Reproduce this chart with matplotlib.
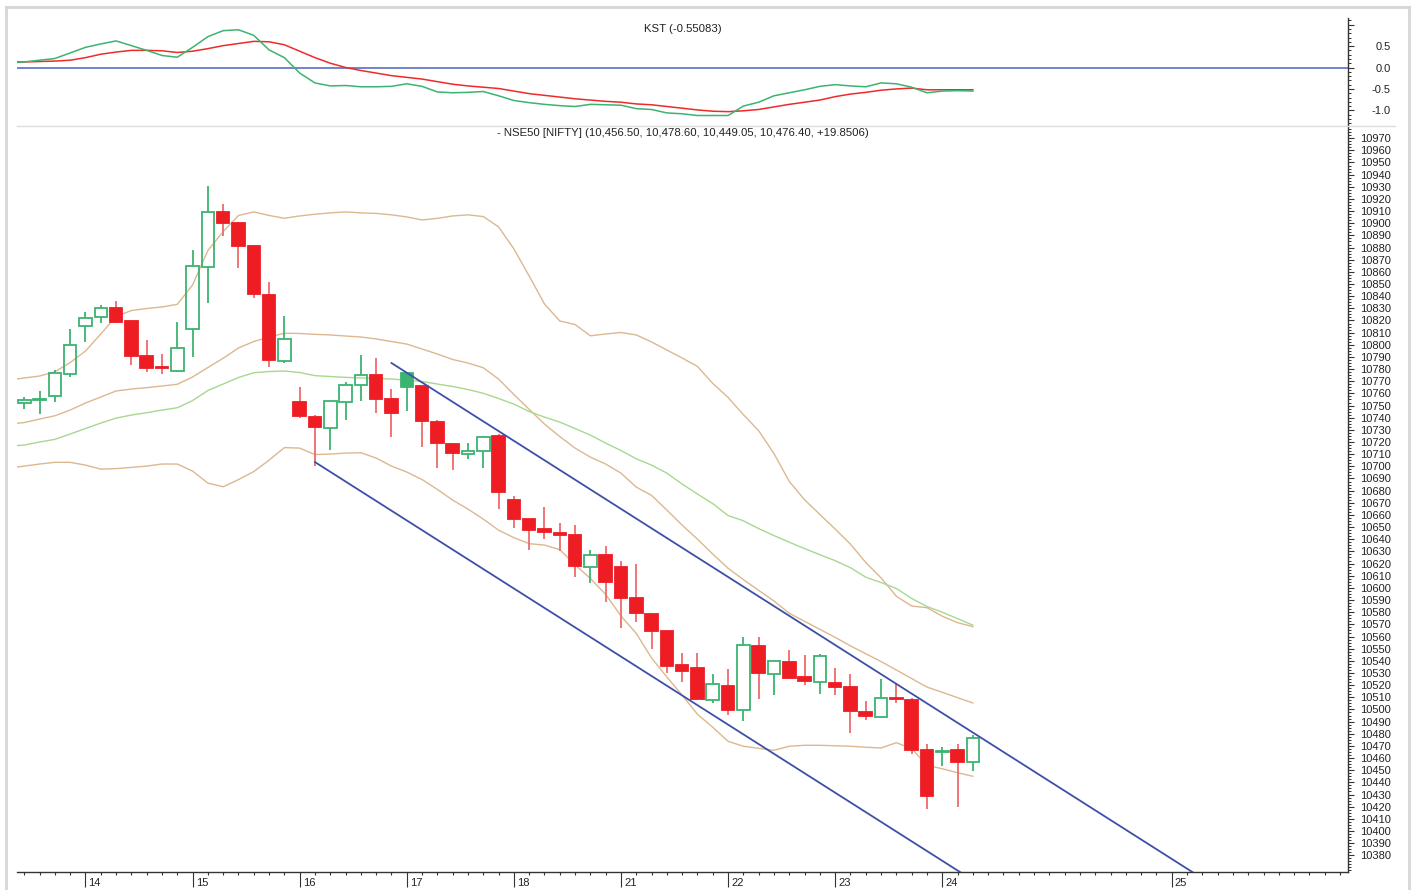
import numpy as np
import matplotlib
matplotlib.use("Agg")
import matplotlib.pyplot as plt
import matplotlib.transforms as mtransforms
from matplotlib.lines import Line2D
from matplotlib.ticker import MultipleLocator, FixedLocator, FixedFormatter

plt.rcParams['font.family'] = ['Liberation Sans', 'DejaVu Sans']

# hourly NIFTY bars, bar 0 = 11th 12:15
opens = [10752.4, 10754.6, 10757.9, 10776.0, 10815.8, 10822.7, 10830.6, 10819.6, 10791.1, 10781.2,
         10778.7, 10813.0, 10863.8, 10909.1, 10900.0, 10881.6, 10841.0, 10786.9, 10753.0, 10740.4,
         10731.8, 10752.7, 10766.7, 10775.0, 10755.4, 10776.6, 10766.3, 10736.8, 10718.4, 10710.2,
         10712.9, 10725.0, 10672.3, 10656.7, 10648.4, 10644.9, 10643.3, 10617.4, 10626.8, 10617.3,
         10591.3, 10578.4, 10564.4, 10536.3, 10534.3, 10507.5, 10519.0, 10499.9, 10552.4, 10529.0,
         10539.2, 10526.4, 10522.7, 10521.4, 10518.1, 10497.5, 10493.9, 10509.8, 10507.7, 10466.6,
         10465.3, 10466.6, 10456.50]
highs = [10757.3, 10762.3, 10779.3, 10812.8, 10827.3, 10832.8, 10836.1, 10820.5, 10804.0, 10792.3,
         10819.1, 10878.0, 10930.7, 10915.9, 10901.4, 10882.2, 10852.0, 10823.8, 10765.6, 10742.0,
         10754.0, 10769.7, 10791.6, 10788.9, 10763.7, 10776.6, 10766.3, 10738.2, 10719.0, 10719.5,
         10723.9, 10726.4, 10675.6, 10656.7, 10666.3, 10653.2, 10651.8, 10631.1, 10634.8, 10622.5,
         10619.8, 10578.4, 10564.4, 10546.2, 10546.2, 10528.9, 10533.2, 10559.8, 10559.8, 10540.0,
         10548.8, 10544.7, 10545.6, 10534.3, 10528.9, 10506.7, 10524.7, 10521.4, 10509.0, 10471.5,
         10469.2, 10471.5, 10478.60]
lows = [10746.9, 10742.8, 10753.2, 10773.3, 10802.6, 10817.7, 10817.7, 10783.4, 10778.0, 10776.0,
        10778.0, 10789.8, 10834.2, 10889.8, 10863.0, 10838.3, 10782.0, 10785.3, 10739.5, 10700.3,
        10713.5, 10738.2, 10754.0, 10744.0, 10724.4, 10745.8, 10715.7, 10698.9, 10697.0, 10705.8,
        10698.4, 10664.7, 10649.0, 10631.1, 10640.5, 10630.4, 10609.3, 10603.8, 10588.7, 10567.2,
        10572.3, 10550.0, 10530.2, 10522.3, 10508.3, 10505.6, 10495.3, 10490.6, 10508.3, 10511.8,
        10524.8, 10520.0, 10512.7, 10511.8, 10480.6, 10491.1, 10493.4, 10505.0, 10463.2, 10418.0,
        10453.6, 10419.9, 10449.05]
closes = [10754.6, 10755.8, 10776.6, 10799.6, 10821.9, 10830.1, 10819.1, 10791.1, 10780.7, 10780.5,
          10797.7, 10864.9, 10909.1, 10900.0, 10881.6, 10841.6, 10787.5, 10804.8, 10741.4, 10732.1,
          10753.8, 10766.7, 10775.0, 10755.7, 10743.9, 10765.5, 10737.3, 10719.0, 10711.2, 10712.9,
          10723.9, 10678.6, 10656.7, 10647.6, 10646.0, 10643.8, 10618.3, 10627.4, 10604.9, 10591.3,
          10579.0, 10564.4, 10535.9, 10531.8, 10508.3, 10520.7, 10499.9, 10552.6, 10530.2, 10540.0,
          10526.1, 10523.6, 10544.1, 10518.6, 10498.8, 10494.5, 10509.8, 10508.5, 10466.6, 10428.9,
          10466.0, 10456.55, 10476.40]

day_labels = ['14', '15', '16', '17', '18', '21', '22', '23', '24', '25']
day_start = [4, 11, 18, 25, 32, 39, 46, 53, 60, 75]

# overlay lines, first value is the bar before bar 0
band_upper2 = [10771.0, 10772.7, 10774.3, 10777.8, 10785.4, 10794.9, 10808.9, 10823.3, 10828.2, 10829.9,
               10831.1, 10833.3, 10849.2, 10877.6, 10893.1, 10906.4, 10909.3, 10906.4, 10904.1, 10906.0,
               10907.4, 10908.5, 10909.3, 10908.5, 10908.1, 10906.9, 10905.2, 10902.7, 10904.0, 10906.0,
               10906.9, 10905.5, 10897.0, 10878.9, 10856.6, 10833.6, 10819.6, 10816.7, 10807.4, 10808.9,
               10810.1, 10808.1, 10802.3, 10795.7, 10789.1, 10782.2, 10768.2, 10756.7, 10742.5, 10729.3,
               10710.5, 10687.6, 10672.5, 10660.4, 10648.4, 10636.0, 10620.9, 10608.2, 10593.1, 10585.1,
               10583.7, 10576.7, 10571.4, 10568.1]
band_upper1 = [10734.8, 10736.0, 10738.9, 10741.6, 10746.3, 10752.1, 10757.0, 10762.0, 10763.6, 10764.7,
               10766.1, 10767.5, 10773.5, 10781.3, 10788.9, 10797.4, 10802.7, 10806.4, 10809.5, 10809.3,
               10808.6, 10808.1, 10807.2, 10806.4, 10804.8, 10802.7, 10800.6, 10796.5, 10792.4, 10787.9,
               10785.0, 10781.1, 10771.8, 10759.1, 10746.9, 10734.8, 10724.5, 10715.0, 10707.6, 10701.9,
               10694.4, 10682.9, 10676.1, 10664.0, 10651.6, 10640.1, 10627.8, 10616.2, 10606.8, 10598.0,
               10589.2, 10579.1, 10572.5, 10565.9, 10559.3, 10552.3, 10545.8, 10539.4, 10532.4, 10525.4,
               10518.4, 10514.1, 10509.7, 10505.3]
band_mid = [10716.7, 10717.5, 10720.0, 10722.2, 10726.6, 10731.1, 10735.6, 10739.7, 10742.2, 10744.1,
            10746.3, 10748.2, 10754.1, 10762.4, 10767.7, 10773.1, 10777.0, 10778.0, 10778.4, 10777.2,
            10774.6, 10773.9, 10773.2, 10772.7, 10772.4, 10771.8, 10771.0, 10769.8, 10767.7, 10765.7,
            10763.2, 10760.1, 10755.8, 10751.2, 10745.1, 10740.5, 10736.4, 10731.1, 10725.7, 10719.1,
            10713.0, 10706.2, 10701.0, 10694.4, 10685.4, 10677.2, 10669.3, 10659.5, 10655.2, 10648.8,
            10643.0, 10637.6, 10632.3, 10627.3, 10622.4, 10616.6, 10608.8, 10604.4, 10599.5, 10591.3,
            10584.7, 10580.0, 10574.7, 10569.3]
band_lower = [10698.6, 10700.2, 10701.9, 10703.3, 10703.3, 10701.0, 10697.7, 10698.1, 10699.1, 10700.2,
              10701.9, 10701.9, 10696.1, 10686.2, 10683.2, 10689.1, 10695.7, 10705.1, 10715.4, 10715.0,
              10709.7, 10710.1, 10710.9, 10711.2, 10706.8, 10700.2, 10695.3, 10689.1, 10681.0, 10672.2,
              10664.8, 10656.6, 10647.5, 10641.3, 10636.4, 10635.2, 10631.5, 10619.0, 10607.8, 10594.6,
              10576.9, 10562.5, 10542.3, 10526.7, 10511.7, 10496.0, 10485.3, 10473.8, 10469.7, 10468.0,
              10466.4, 10469.7, 10470.5, 10470.5, 10470.1, 10469.7, 10468.9, 10468.3, 10472.6, 10467.8,
              10454.0, 10451.2, 10447.9, 10445.0]

kst = [0.11, 0.13, 0.17, 0.21, 0.34, 0.47, 0.55, 0.62, 0.51, 0.40,
       0.28, 0.24, 0.47, 0.72, 0.86, 0.88, 0.75, 0.41, 0.23, -0.13,
       -0.36, -0.43, -0.42, -0.45, -0.45, -0.44, -0.38, -0.44, -0.57, -0.59,
       -0.58, -0.56, -0.66, -0.77, -0.82, -0.86, -0.89, -0.91, -0.86, -0.87,
       -0.88, -0.96, -0.98, -1.06, -1.08, -1.12, -1.12, -1.12, -0.90, -0.81,
       -0.66, -0.59, -0.52, -0.44, -0.40, -0.43, -0.45, -0.36, -0.38, -0.46,
       -0.59, -0.55, -0.54, -0.55]
kst_signal = [0.13, 0.13, 0.14, 0.15, 0.17, 0.23, 0.31, 0.36, 0.40, 0.40,
              0.39, 0.35, 0.38, 0.44, 0.51, 0.56, 0.61, 0.60, 0.53, 0.38,
              0.23, 0.10, 0.00, -0.07, -0.13, -0.19, -0.23, -0.27, -0.33, -0.39,
              -0.43, -0.46, -0.49, -0.55, -0.61, -0.65, -0.69, -0.73, -0.76, -0.79,
              -0.81, -0.85, -0.87, -0.91, -0.95, -0.99, -1.02, -1.03, -1.01, -0.98,
              -0.92, -0.86, -0.81, -0.76, -0.68, -0.62, -0.58, -0.53, -0.50, -0.48,
              -0.52, -0.52, -0.52, -0.52]

# falling channel: start bar, start price, slope per bar
chan_x0 = [24, 19]
chan_y0 = [10785.0, 10703.5]
chan_slope = -8.0

W, H = 1416, 890
fig = plt.figure(figsize=(W / 100, H / 100), dpi=100)
fig.patch.set_facecolor('white')


def fx(px):
    return px / W


def fy(py):
    return 1 - py / H


x_left, x_right = 17, 1348
ax_k = fig.add_axes([fx(x_left), fy(126), fx(x_right) - fx(x_left), fy(18) - fy(126)])
ax = fig.add_axes([fx(x_left), fy(871.7), fx(x_right) - fx(x_left), fy(126) - fy(871.7)])

n = len(closes)
idx = np.arange(n)
line_idx = np.arange(-1, n)
xlim = (-0.477, 86.52)

green = '#3cb371'
red = '#ee1d24'
red_wick = '#f06a6a'
tan = '#dcb88f'
axis_col = '#333333'

# ---- KST panel
ax_k.axhline(0, color='#5a6ec2', lw=1.2, zorder=1)
ax_k.plot(line_idx, kst_signal, color='#ee2a2a', lw=1.1, zorder=2)
ax_k.plot(line_idx, kst, color=green, lw=1.1, zorder=3)
ax_k.set_xlim(xlim)
ax_k.set_ylim(-1.365, 1.155)
ax_k.text(0.5, 1 - (29 - 18) / 108, 'KST (-0.55083)', transform=ax_k.transAxes,
          ha='center', va='center', fontsize=8.2, color='#222222')

# ---- price panel
for a, col, lw in [(band_upper2, tan, 1.0), (band_upper1, tan, 1.0),
                   (band_mid, '#a8d890', 1.0), (band_lower, tan, 1.0)]:
    ax.plot(line_idx, a, color=col, lw=lw, zorder=1)

for i in range(n):
    o, h, l, c = opens[i], highs[i], lows[i], closes[i]
    prev = closes[i - 1] if i > 0 else o
    up = c >= prev
    col = green if up else red
    wcol = green if up else red_wick
    top, bot = max(o, c), min(o, c)
    ax.vlines(i, top, h, color=wcol, lw=1.3, zorder=3)
    ax.vlines(i, l, bot, color=wcol, lw=1.3, zorder=3)
    height = max(top - bot, 0.9)
    filled = c < o
    ax.bar(i, height, bottom=bot, width=0.82,
           facecolor=col if filled else 'none', edgecolor=col,
           linewidth=1.3, zorder=4)

for x0, y0 in zip(chan_x0, chan_y0):
    xs = np.array([x0, x0 + 80])
    ax.plot(xs, y0 + chan_slope * (xs - x0), color='#3c50a8', lw=1.3, zorder=5)

ax.set_xlim(xlim)
ax.set_ylim(10366.5, 10980.0)
ax.text(0.5, 1 - 7 / 745.7,
        '- NSE50 [NIFTY] (10,456.50, 10,478.60, 10,449.05, 10,476.40, +19.8506)',
        transform=ax.transAxes, ha='center', va='center', fontsize=8.2, color='#222222')

# ---- axes styling
for a in (ax_k, ax):
    for s in ('left', 'top'):
        a.spines[s].set_visible(False)
    a.spines['right'].set_color(axis_col)
    a.spines['right'].set_linewidth(1.0)
    a.yaxis.tick_right()
    a.patch.set_alpha(0)
ax_k.spines['bottom'].set_visible(False)
ax_k.set_xticks([])

ax.spines['bottom'].set_color(axis_col)
ax.spines['bottom'].set_linewidth(1.0)

ax.yaxis.set_major_locator(FixedLocator(np.arange(10380, 10971, 10)))
ax.yaxis.set_minor_locator(MultipleLocator(2.5))
ax_k.yaxis.set_major_locator(FixedLocator([-1.0, -0.5, 0.0, 0.5, 1.0]))
ax_k.yaxis.set_major_formatter(FixedFormatter(['-1.0', '-0.5', '0.0', '0.5', '']))
ax_k.yaxis.set_minor_locator(MultipleLocator(0.1))

for a in (ax_k, ax):
    a.tick_params(axis='y', which='major', length=4.3, width=0.8, color=axis_col,
                  labelsize=8, labelcolor='#222222', pad=26.6)
    a.tick_params(axis='y', which='minor', length=2.2, width=0.7, color=axis_col)

ax.set_xticks(day_start)
ax.set_xticks(np.arange(0, 87), minor=True)
ax.tick_params(axis='x', which='major', length=10.8, width=0.8, color=axis_col,
               labelbottom=False)
ax.tick_params(axis='x', which='minor', length=2.4, width=0.8, color=axis_col)

trans = mtransforms.blended_transform_factory(ax.transData, ax.transAxes)
for d, lab in zip(day_start, day_labels):
    ax.text(d + 0.2, -11.5 / 745.7, lab, transform=trans, ha='left', va='center',
            fontsize=8, color='#222222')

fig.canvas.draw()
for a in (ax_k, ax):
    for t in a.get_yticklabels():
        t.set_horizontalalignment('right')

# ---- frame and separator
frame = '#d6d6d6'
fig.add_artist(Line2D([fx(6), fx(6)], [fy(7), fy(895)], color=frame, lw=2))
fig.add_artist(Line2D([fx(6), fx(1409)], [fy(7), fy(7)], color=frame, lw=2))
fig.add_artist(Line2D([fx(1409), fx(1409)], [fy(7), fy(895)], color=frame, lw=2))
fig.add_artist(Line2D([fx(17), fx(1395)], [fy(126), fy(126)], color='#dcdcdc', lw=1))

fig.savefig('out.png', dpi=100)
